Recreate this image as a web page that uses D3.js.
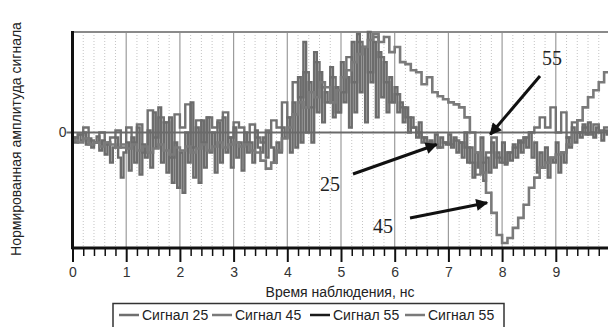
<!DOCTYPE html>
<html>
<head>
<meta charset="utf-8">
<script src="https://cdn.jsdelivr.net/npm/d3@7"></script>
<style>
    body { margin: 0; background: #fff; }
    svg { display: block; font-family: 'Liberation Sans', Arial, sans-serif; }
</style>
</head>
<body>
<div id="chart"></div>
<script>
// sample grids (ns)
const tStep25 = 0.05
const tStep = 0.1

const signal25 = [
    -0.05, -0.1, -0.02, -0.08, 0.0, -0.12, -0.06, -0.15, -0.1, -0.04, -0.18, -0.08, -0.22, -0.1, -0.3, -0.15, -0.05, -0.25, -0.45, -0.2,
    -0.1, -0.38, -0.05, -0.3, 0.05, -0.42, -0.12, -0.25, 0.02, -0.35, 0.2, -0.15, 0.25, -0.3, 0.1, -0.4, 0.15, -0.5, -0.1, -0.55,
    -0.2, -0.6, 0.0, -0.3, 0.3, -0.45, 0.05, -0.5, 0.12, -0.35, 0.15, -0.2, 0.0, -0.4, 0.1, -0.3, 0.15, -0.2, -0.05, -0.35,
    0.05, -0.25, -0.1, -0.38, 0.0, -0.2, -0.1, -0.3, 0.02, -0.15, -0.2, -0.05, -0.25, 0.0, -0.15, -0.3, -0.1, -0.2, 0.05, -0.05,
    0.15, -0.2, 0.3, -0.15, 0.55, -0.1, 0.9, 0.0, 0.5, -0.1, 0.8, 0.2, 0.6, 0.1, 0.4, 0.3, 0.65, 0.15, 0.45, 0.2,
    0.7, 0.3, 0.55, 0.05, 0.9, 0.2, 0.98, 0.4, 0.85, 0.1, 1.0, 0.5, 0.9, 0.15, 0.8, 0.35, 0.7, 0.2, 0.55, 0.3,
    0.45, 0.2, 0.3, 0.1, 0.25, 0.0, 0.15, 0.05, -0.05, 0.1, -0.1, -0.05, -0.13, -0.08, -0.12, -0.02, -0.15, -0.05, -0.1, -0.12,
    -0.02, -0.15, -0.05, -0.2, -0.1, -0.25, 0.0, -0.3, -0.15, -0.45, -0.2, -0.35, -0.05, -0.48, -0.25, -0.4, -0.1, -0.35, -0.2, -0.3,
    -0.1, -0.32, -0.2, -0.28, -0.12, -0.25, -0.08, -0.2, -0.05, -0.15, 0.0, -0.25, -0.1, -0.4, -0.2, -0.35, -0.15, -0.45, -0.25, -0.3,
    -0.1, -0.4, -0.2, -0.3, -0.05, -0.15, 0.05, -0.1, 0.0, -0.05, 0.08, -0.02, 0.1, 0.0, -0.05, 0.05, 0.0, -0.08, 0.02, -0.02,
    0.0
]

const signal45 = [
    -0.08, -0.1, -0.06, -0.12, -0.1, -0.14, -0.1, -0.12, -0.15, -0.12,
    -0.16, -0.12, -0.18, -0.14, -0.2, -0.16, -0.12, -0.18, -0.22, -0.15,
    -0.18, -0.14, -0.2, -0.16, -0.12, -0.18, -0.14, -0.1, -0.15, -0.12,
    -0.1, -0.14, -0.12, -0.18, -0.2, -0.28, -0.36, -0.3, -0.18, -0.06,
    0.05, 0.18, 0.3, 0.25, 0.4, 0.35, 0.5, 0.45, 0.3, 0.42,
    0.55, 0.62, 0.7, 0.78, 0.85, 0.92, 0.98, 0.9, 0.95, 0.8,
    0.85, 0.7, 0.68, 0.62, 0.6, 0.48, 0.55, 0.4, 0.36, 0.33,
    0.3, 0.28, 0.25, 0.15, 0.0, -0.2, -0.4, -0.6, -0.8, -1.02,
    -1.1, -1.05, -0.95, -0.85, -0.72, -0.55, -0.45, -0.35, -0.3, -0.25,
    -0.22, -0.2, -0.12, 0.0, 0.12, 0.25, 0.35, 0.42, 0.5, 0.6,
    0.65
]

const signal55 = [
    -0.05, -0.02, 0.05, -0.08, -0.1, 0.0, -0.12, -0.05, 0.02, -0.15,
    0.05, -0.1, 0.08, -0.2, 0.22, -0.05, 0.15, 0.1, -0.25, 0.18,
    0.05, 0.28, -0.15, 0.12, -0.1, 0.15, 0.05, 0.12, 0.2, -0.05,
    0.1, 0.05, -0.1, 0.08, -0.05, -0.1, 0.02, 0.12, 0.05, 0.3,
    0.15, 0.5, 0.35, 0.6, 0.25, 0.7, 0.45, 0.3, 0.55, 0.2,
    0.4, 0.75, 0.5, 0.9, 0.85, 0.6, 0.95, 0.75, 0.5, 0.3,
    0.38, 0.25, 0.15, 0.05, 0.0, -0.05, -0.1, -0.12, -0.15, -0.1,
    -0.12, -0.08, -0.1, -0.15, -0.3, -0.42, -0.3, -0.2, -0.05, -0.25,
    -0.3, -0.2, -0.15, -0.1, -0.05, 0.0, 0.05, 0.15, 0.05, 0.25,
    0.0, 0.2, -0.05, 0.1, 0.0, 0.05, -0.02, 0.08, 0.02, 0.05,
    0.0
]

const xTicks = [0, 1, 2, 3, 4, 5, 6, 7, 8, 9]
const legendNames = ['Сигнал 25', 'Сигнал 45', 'Сигнал 55', 'Сигнал 55']
const legendColors = ['#6f6f6f', '#7a7a7a', '#1a1a1a', '#7a7a7a']
const notes = [
    { label: '55', tx: 552, ty: 58, from: [540, 76], to: [7.78, -0.02] },
    { label: '25', tx: 330, ty: 184, from: [353, 174], to: [6.78, -0.12] },
    { label: '45', tx: 383, ty: 226, from: [410, 218], to: [7.72, -0.7] }
]

const width = 608
const height = 327
const plotLeft = 72.5
const plotTop = 32
const plotBottom = 248

const x = d3.scaleLinear().domain([0, 10]).range([plotLeft, plotLeft + 537])
const y = d3.scaleLinear().domain([-1.15, 1]).range([plotBottom, plotTop])

const svg = d3.select('#chart')
    .append('svg')
    .attr('width', width)
    .attr('height', height)

svg.append('defs').append('marker')
    .attr('id', 'arrow')
    .attr('viewBox', '0 0 10 10')
    .attr('refX', 9)
    .attr('refY', 5)
    .attr('markerWidth', 5)
    .attr('markerHeight', 4)
    .attr('markerUnits', 'strokeWidth')
    .attr('orient', 'auto')
    .append('path')
    .attr('d', 'M0,0 L10,5 L0,10 z')
    .attr('fill', '#111')

// minor dotted grid every 0.2
const minor = d3.range(0.2, 10.01, 0.2).filter((d) => Math.abs(d - Math.round(d)) > 0.01)
svg.append('g').selectAll('line')
    .data(minor)
    .enter()
    .append('line')
    .attr('x1', (d) => x(d)).attr('x2', (d) => x(d))
    .attr('y1', plotTop).attr('y2', plotBottom)
    .attr('stroke', '#c4c4c4')
    .attr('stroke-dasharray', '1,2')

svg.append('g').selectAll('line')
    .data(xTicks.slice(1).concat([10]))
    .enter()
    .append('line')
    .attr('x1', (d) => x(d)).attr('x2', (d) => x(d))
    .attr('y1', plotTop).attr('y2', plotBottom)
    .attr('stroke', '#9c9c9c')
    .attr('stroke-width', 1.2)

// top frame
svg.append('line')
    .attr('x1', plotLeft).attr('x2', width)
    .attr('y1', plotTop).attr('y2', plotTop)
    .attr('stroke', '#8a8a8a')
    .attr('stroke-width', 2)

const line = (step) => d3.line()
    .x((d, i) => x(i * step))
    .y((d) => y(d))
    .curve(d3.curveStepAfter)

const plot = svg.append('g')
plot.append('path')
    .datum(signal55)
    .attr('fill', 'none')
    .attr('stroke', '#727272')
    .attr('stroke-width', 2.4)
    .attr('d', line(tStep))
plot.append('path')
    .datum(signal25)
    .attr('fill', 'none')
    .attr('stroke', '#6c6c6c')
    .attr('stroke-width', 2.4)
    .attr('d', line(tStep25))
plot.append('path')
    .datum(signal45)
    .attr('fill', 'none')
    .attr('stroke', '#7a7a7a')
    .attr('stroke-width', 2.6)
    .attr('d', line(tStep))

// zero line
svg.append('line')
    .attr('x1', plotLeft - 6).attr('x2', width)
    .attr('y1', y(0)).attr('y2', y(0))
    .attr('stroke', '#6a6a6a')
    .attr('stroke-width', 2)
svg.append('text')
    .attr('x', plotLeft - 6)
    .attr('y', y(0))
    .attr('dy', '0.35em')
    .attr('text-anchor', 'end')
    .attr('font-size', 14)
    .attr('fill', '#333')
    .text('0')

// x axis
const xAxis = d3.axisBottom(x).tickValues(xTicks).tickSize(14).tickFormat(d3.format('d'))
svg.append('g')
    .attr('transform', `translate(0, ${plotBottom})`)
    .attr('id', 'x-axis')
    .call(xAxis)
    .call((g) => {
        g.select('.domain').remove()
        g.selectAll('line').attr('stroke', '#111').attr('stroke-width', 2)
        g.selectAll('text').attr('font-size', 14).attr('fill', '#333').attr('y', 19)
    })
svg.append('g')
    .attr('transform', `translate(0, ${plotBottom})`)
    .call(d3.axisBottom(x).tickValues(minor).tickSize(8).tickFormat(''))
    .call((g) => {
        g.select('.domain').remove()
        g.selectAll('line').attr('stroke', '#111').attr('stroke-width', 1.5)
    })
svg.append('line')
    .attr('x1', plotLeft - 1).attr('x2', width)
    .attr('y1', plotBottom).attr('y2', plotBottom)
    .attr('stroke', '#111').attr('stroke-width', 3)
svg.append('line')
    .attr('x1', plotLeft).attr('x2', plotLeft)
    .attr('y1', plotTop - 1).attr('y2', plotBottom + 1)
    .attr('stroke', '#111').attr('stroke-width', 3)

svg.append('text')
    .attr('x', 340).attr('y', 297)
    .attr('text-anchor', 'middle')
    .attr('font-size', 14)
    .attr('fill', '#222')
    .text('Время наблюдения, нс')

svg.append('text')
    .attr('transform', 'translate(21, 139) rotate(-90)')
    .attr('text-anchor', 'middle')
    .attr('font-size', 14)
    .attr('fill', '#222')
    .text('Нормированная амплитуда сигнала')

// annotations
notes.forEach((n) => {
    svg.append('line')
        .attr('x1', n.from[0]).attr('y1', n.from[1])
        .attr('x2', x(n.to[0])).attr('y2', y(n.to[1]))
        .attr('stroke', '#111')
        .attr('stroke-width', 3)
        .attr('marker-end', 'url(#arrow)')
    svg.append('text')
        .attr('x', n.tx).attr('y', n.ty)
        .attr('text-anchor', 'middle')
        .attr('dy', '0.35em')
        .attr('font-family', "'Liberation Serif', 'Times New Roman', serif")
        .attr('font-size', 20)
        .attr('fill', '#222')
        .text(n.label)
})

// legend
const legend = svg.append('g')
legend.append('rect')
    .attr('x', 113).attr('y', 303.5)
    .attr('width', 391).attr('height', 30)
    .attr('fill', '#fff')
    .attr('stroke', '#333')
    .attr('stroke-width', 1.5)
const itemX = [119, 212, 310, 405]
legendNames.forEach((name, i) => {
    legend.append('line')
        .attr('x1', itemX[i]).attr('x2', itemX[i] + 20)
        .attr('y1', 315).attr('y2', 315)
        .attr('stroke', legendColors[i])
        .attr('stroke-width', 2.5)
    legend.append('text')
        .attr('x', itemX[i] + 23).attr('y', 315)
        .attr('dy', '0.35em')
        .attr('font-size', 14)
        .attr('fill', '#222')
        .text(name)
})
</script>
</body>
</html>
